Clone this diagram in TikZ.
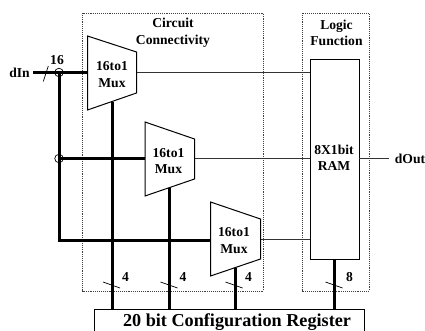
\documentclass[tikz,border=0pt]{standalone}
\usepackage{fontspec}
\setmainfont{Liberation Serif}
\tikzset{
  lbl/.style={font=\bfseries\fontsize{#1}{16.5}\selectfont,inner sep=0pt,align=center},
  lbl/.default=13.6,
  dash box/.style={draw=black!75,densely dotted,line width=0.9pt},
  solid box/.style={draw=black,line width=1pt},
  thin wire/.style={draw=black!80,line width=1pt},
  thick wire/.style={draw=black,line width=3pt},
  tick/.style={draw=black,line width=0.7pt},
}
\begin{document}
\begin{tikzpicture}[x=1pt,y=-1pt]
\useasboundingbox (0,0) rectangle (425,331);
% dashed regions
\draw[dash box] (82.5,13) rectangle (263.5,291);
\draw[dash box] (302,13) rectangle (369,291);
\node[lbl] (cc) at (173,33) {Circuit\\Connectivity};
\node[lbl] (lf) at (336.5,33) {Logic\\Function};
% RAM and config
\node[solid box,minimum width=49.5pt,minimum height=200pt,inner sep=0pt,anchor=north west] (ram) at (309.5,59) {};
\node[lbl] at (334,158) {8X1bit\\RAM};
\node[solid box,minimum width=270pt,minimum height=40pt,inner sep=0pt,anchor=north west] (cfg) at (94,309) {};
\node[lbl=18.2] (cfgt) at (237,322) {20 bit Configuration Register};
% mux coordinates
\coordinate (m1a) at (87.5,36); \coordinate (m1b) at (136.5,52); \coordinate (m1c) at (136.5,93); \coordinate (m1d) at (87.5,110);
\coordinate (m2a) at (145,122); \coordinate (m2b) at (194.5,139); \coordinate (m2c) at (194.5,179); \coordinate (m2d) at (145,196);
\coordinate (m3a) at (210.5,202); \coordinate (m3b) at (260.5,219); \coordinate (m3c) at (260.5,259); \coordinate (m3d) at (210.5,276);
% junctions and ports
\coordinate (in) at (33,72.5);
\coordinate (j1) at (59,72.5);
\coordinate (j2) at (59,158.5);
\coordinate (j3) at (59,240);
\coordinate (m1in) at (87.5,72.5); \coordinate (m2in) at (145,158.5); \coordinate (m3in) at (210.5,240);
\coordinate (m1out) at (136.5,72.5); \coordinate (m2out) at (194.5,158.5); \coordinate (m3out) at (260.5,239.5);
\coordinate (r1) at (309.5,72.5); \coordinate (r2) at (309.5,158.5); \coordinate (r3) at (309.5,239.5);
\coordinate (r4) at (359,158.5); \coordinate (out) at (389,158.5);
\coordinate (m1s) at (112,102); \coordinate (c1) at (112,309);
\coordinate (m2s) at (169.5,188); \coordinate (c2) at (169.5,309);
\coordinate (m3s) at (235,268); \coordinate (c3) at (235,309);
\coordinate (rs) at (334.5,259); \coordinate (c4) at (334.5,309);
% thin wires
\draw[thin wire] (m1out) -- (r1);
\draw[thin wire] (m2out) -- (r2);
\draw[thin wire] (m3out) -- (r3);
\draw[thin wire] (r4) -- (out);
% thick wires
\draw[thick wire] (in) -- (m1in);
\draw[thick wire,line join=miter] (j1) -- (j3) -- (m3in);
\draw[thick wire] (j2) -- (m2in);
\draw[thick wire] (m1s) -- (c1);
\draw[thick wire] (m2s) -- (c2);
\draw[thick wire] (m3s) -- (c3);
\draw[thick wire] (rs) -- (c4);
% mux bodies
\draw[solid box,fill=white] (m1a) -- (m1b) -- (m1c) -- (m1d) -- cycle;
\draw[solid box,fill=white] (m2a) -- (m2b) -- (m2c) -- (m2d) -- cycle;
\draw[solid box,fill=white] (m3a) -- (m3b) -- (m3c) -- (m3d) -- cycle;
\node[lbl] (mt1) at (112,74.5) {16to1\\Mux};
\node[lbl] (mt2) at (168.5,161) {16to1\\Mux};
\node[lbl] (mt3) at (234,240.5) {16to1\\Mux};
% junction circles
\node[draw=black,line width=0.7pt,circle,minimum size=8.5pt,inner sep=0pt] (o1) at (j1) {};
\node[draw=black,line width=0.7pt,circle,minimum size=8.5pt,inner sep=0pt] (o2) at (j2) {};
% bus ticks
\draw[tick] (43.3,81.5) -- (48.3,66);
\draw[tick] (103,282) -- (120,288);
\draw[tick] (160.5,282) -- (177.5,288);
\draw[tick] (225.5,282) -- (242.5,288);
\draw[tick] (325.5,282) -- (342.5,288);
% labels
\node[lbl] (l16) at (57,60.5) {16};
\node[lbl] (l4a) at (125.5,277.5) {4};
\node[lbl] (l4b) at (183,277.5) {4};
\node[lbl] (l4c) at (248.5,277.5) {4};
\node[lbl] (l8) at (349.5,277.5) {8};
\node[lbl] (din) at (19.5,72.5) {dIn};
\node[lbl] (dout) at (410,158.5) {dOut};
\end{tikzpicture}
\end{document}
